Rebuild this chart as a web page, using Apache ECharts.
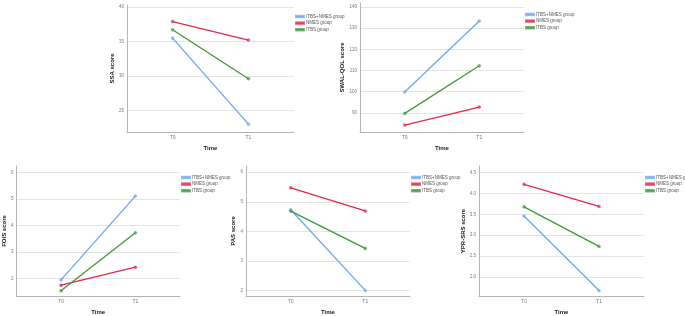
<!DOCTYPE html>
<html>
<head>
<meta charset="utf-8">
<script src="https://cdn.jsdelivr.net/npm/echarts@6/dist/echarts.min.js"></script>
<style>
  html, body { margin: 0; padding: 0; background: #fff; }
  #main { width: 685px; height: 316px; }
</style>
</head>
<body>
<div id="main"></div>
<script>
  var categories = ['T0', 'T1'];
  var groupNames = ['ITBS+NMES group', 'NMES group', 'ITBS group'];
  var groupColors = ['#6fa5ee', '#e3284f', '#3d9a36'];

  // SSA
  var ssaCombined = [35.5, 23.0];
  var ssaNmes = [37.9, 35.2];
  var ssaItbs = [36.7, 29.6];
  var ssaTicks = [25, 30, 35, 40];
  // SWAL-QOL
  var swalCombined = [99.8, 133.4];
  var swalNmes = [84.2, 92.7];
  var swalItbs = [89.7, 112.2];
  var swalTicks = [90, 100, 110, 120, 130, 140];
  // FOIS
  var foisCombined = [1.94, 5.11];
  var foisNmes = [1.74, 2.42];
  var foisItbs = [1.53, 3.72];
  var foisTicks = [2, 3, 4, 5, 6];
  // PAS
  var pasCombined = [4.73, 2.0];
  var pasNmes = [5.47, 4.69];
  var pasItbs = [4.68, 3.42];
  var pasTicks = [2, 3, 4, 5, 6];
  // YPR-SRS
  var yprCombined = [3.46, 1.67];
  var yprNmes = [4.22, 3.69];
  var yprItbs = [3.68, 2.73];
  var yprTicks = [2.0, 2.5, 3.0, 3.5, 4.0, 4.5];

  var panels = [
    {title: 'SSA score', data: [ssaCombined, ssaNmes, ssaItbs], ticks: ssaTicks, min: 21.86, max: 40.3, dec: 0,
     grid: {left: 127, top: 5, width: 167, height: 127}, nameGap: 10},
    {title: 'SWAL-QOL score', data: [swalCombined, swalNmes, swalItbs], ticks: swalTicks, min: 80.9, max: 141.9, dec: 0,
     grid: {left: 360, top: 3, width: 164, height: 129}, nameGap: 13},
    {title: 'FOIS score', data: [foisCombined, foisNmes, foisItbs], ticks: foisTicks, min: 1.33, max: 6.25, dec: 0,
     grid: {left: 12, top: 166, width: 168, height: 131}, nameGap: 7},
    {title: 'PAS score', data: [pasCombined, pasNmes, pasItbs], ticks: pasTicks, min: 1.81, max: 6.21, dec: 0,
     grid: {left: 246, top: 166, width: 164, height: 131}, nameGap: 10},
    {title: 'YPR-SRS score', data: [yprCombined, yprNmes, yprItbs], ticks: yprTicks, min: 1.54, max: 4.66, dec: 1,
     grid: {left: 479, top: 166, width: 165, height: 131}, nameGap: 11}
  ];

  var grids = [], xAxes = [], yAxes = [], series = [], legends = [];

  panels.forEach(function (p, i) {
    grids.push(p.grid);
    xAxes.push({
      type: 'value', gridIndex: i, min: -0.6, max: 1.6,
      name: 'Time', nameLocation: 'middle', nameGap: 13,
      nameTextStyle: {fontSize: 6, fontWeight: 'bold', color: '#222', fontFamily: 'Liberation Sans'},
      axisLine: {show: true, onZero: false, lineStyle: {color: '#b5b5b5', width: 1}},
      axisTick: {show: false},
      splitLine: {show: false},
      axisLabel: {
        customValues: [0, 1], margin: 3, fontSize: 5, color: '#777', fontFamily: 'Liberation Sans',
        formatter: function (v) { return categories[Math.round(v)]; }
      }
    });
    yAxes.push({
      type: 'value', gridIndex: i, min: p.min, max: p.max,
      name: p.title, nameLocation: 'middle', nameGap: p.nameGap, nameRotate: 90,
      nameTextStyle: {fontSize: 6, fontWeight: 'bold', color: '#222', fontFamily: 'Liberation Sans'},
      axisLine: {show: true, onZero: false, lineStyle: {color: '#b5b5b5', width: 1}},
      axisTick: {show: false, customValues: p.ticks},
      splitLine: {show: true, lineStyle: {color: '#e4e4e4', width: 1}},
      axisLabel: {
        customValues: p.ticks, margin: 3, fontSize: 4.5, color: '#777', fontFamily: 'Liberation Sans',
        formatter: function (v) { return v.toFixed(p.dec); }
      }
    });
    p.data.forEach(function (vals, g) {
      series.push({
        name: groupNames[g], type: 'line', xAxisIndex: i, yAxisIndex: i,
        data: vals.map(function (v, k) { return [k, v]; }),
        symbol: 'circle', symbolSize: 3,
        itemStyle: {color: groupColors[g], borderColor: groupColors[g], borderWidth: 0.5, opacity: 0.7},
        lineStyle: {color: groupColors[g], width: 1.3},
        emphasis: {disabled: true},
        animation: false
      });
    });
    legends.push({
      data: groupNames.slice(), orient: 'vertical',
      left: p.grid.left + p.grid.width + 1, top: p.grid.top + 9,
      icon: 'rect', itemWidth: 8, itemHeight: 1.5, itemGap: 1.6,
      textStyle: {fontSize: 4.5, color: '#555', fontFamily: 'Liberation Sans', padding: [0, 0, 0, -3]},
      padding: 0
    });
  });

  var chart = echarts.init(document.getElementById('main'));
  chart.setOption({
    backgroundColor: '#fff',
    animation: false,
    grid: grids,
    xAxis: xAxes,
    yAxis: yAxes,
    legend: legends,
    series: series
  });
</script>
</body>
</html>
